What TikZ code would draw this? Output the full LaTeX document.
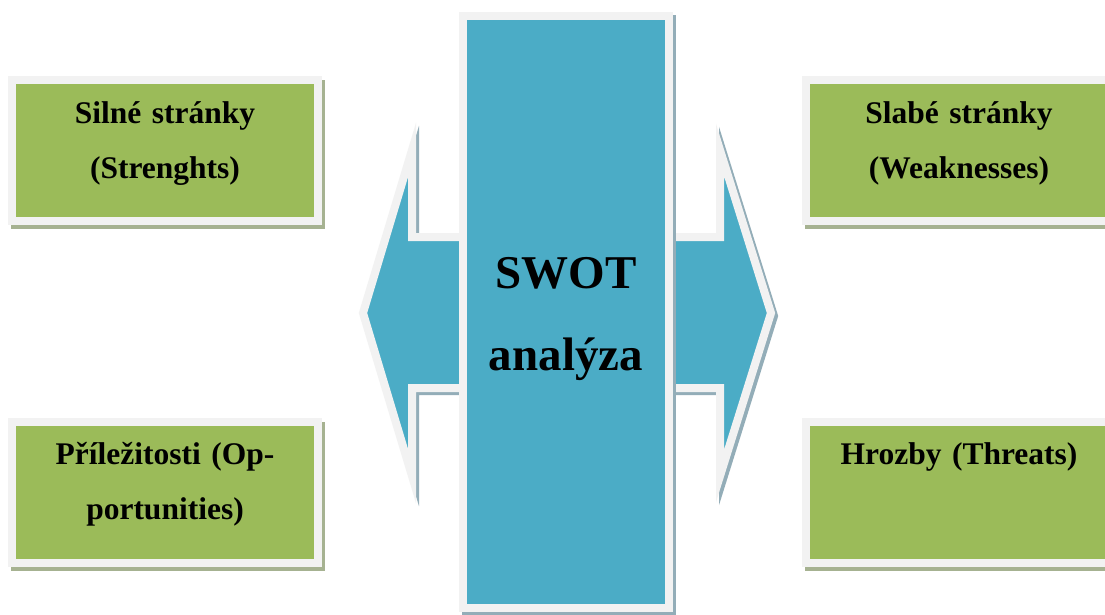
\documentclass[tikz,border=0pt]{standalone}
\usepackage{fontspec}
\setmainfont{Liberation Serif}
\usetikzlibrary{shadows}
\definecolor{boxgreen}{RGB}{155,187,89}
\definecolor{crossblue}{RGB}{75,172,198}
\definecolor{framegray}{RGB}{242,242,242}
\definecolor{greenshade}{RGB}{166,178,145}
\definecolor{blueshade}{RGB}{147,173,184}
\tikzset{
  swotbox/.style={draw=framegray, line width=8pt, fill=boxgreen, minimum width=306pt,
    minimum height=141pt, inner sep=0pt, text width=290pt, align=center,
    text height=18pt, text depth=73pt, font=\bfseries\fontsize{31.5}{55}\selectfont,
    drop shadow={shadow xshift=3pt, shadow yshift=-4pt, fill=greenshade,
      draw=greenshade, line width=8pt, opacity=1}},
  crossshape/.style={draw=framegray, line width=8pt, fill=crossblue, line join=miter},
  crossshade/.style={draw=blueshade, line width=8pt, fill=blueshade, line join=miter},
  swottext/.style={align=center, anchor=base, font=\bfseries\fontsize{47}{82}\selectfont}
}
\begin{document}
\begin{tikzpicture}[x=1pt, y=-1pt]
  \clip (0,0) rectangle (1105,614);
  \fill[white] (0,0) rectangle (1105,614);
  % double arrow
  \draw[crossshade, shift={(3,3)}] (363,313) -- (412,150) -- (412,237) -- (720,237) -- (720,150)
    -- (771,313) -- (720,476) -- (720,388) -- (412,388) -- (412,476) -- cycle;
  \draw[crossshape] (363,313) -- (412,150) -- (412,237) -- (720,237) -- (720,150)
    -- (771,313) -- (720,476) -- (720,388) -- (412,388) -- (412,476) -- cycle;
  % vertical bar
  \draw[crossshade, shift={(3,3)}] (463,16) rectangle (669,608);
  \draw[crossshape] (463,16) rectangle (669,608);
  \node[swottext] (swot) at (566,370) {SWOT\\analýza};
  % the four boxes
  \node[swotbox] (strengths) at (165,150.5) {Silné stránky\\(Strenghts)};
  \node[swotbox] (weaknesses) at (959,150.5) {Slabé stránky\\(Weaknesses)};
  \node[swotbox] (opportunities) at (165,492) {Příležitosti (Op-\\portunities)};
  \node[swotbox] (threats) at (959,492) {Hrozby (Threats)};
\end{tikzpicture}
\end{document}
